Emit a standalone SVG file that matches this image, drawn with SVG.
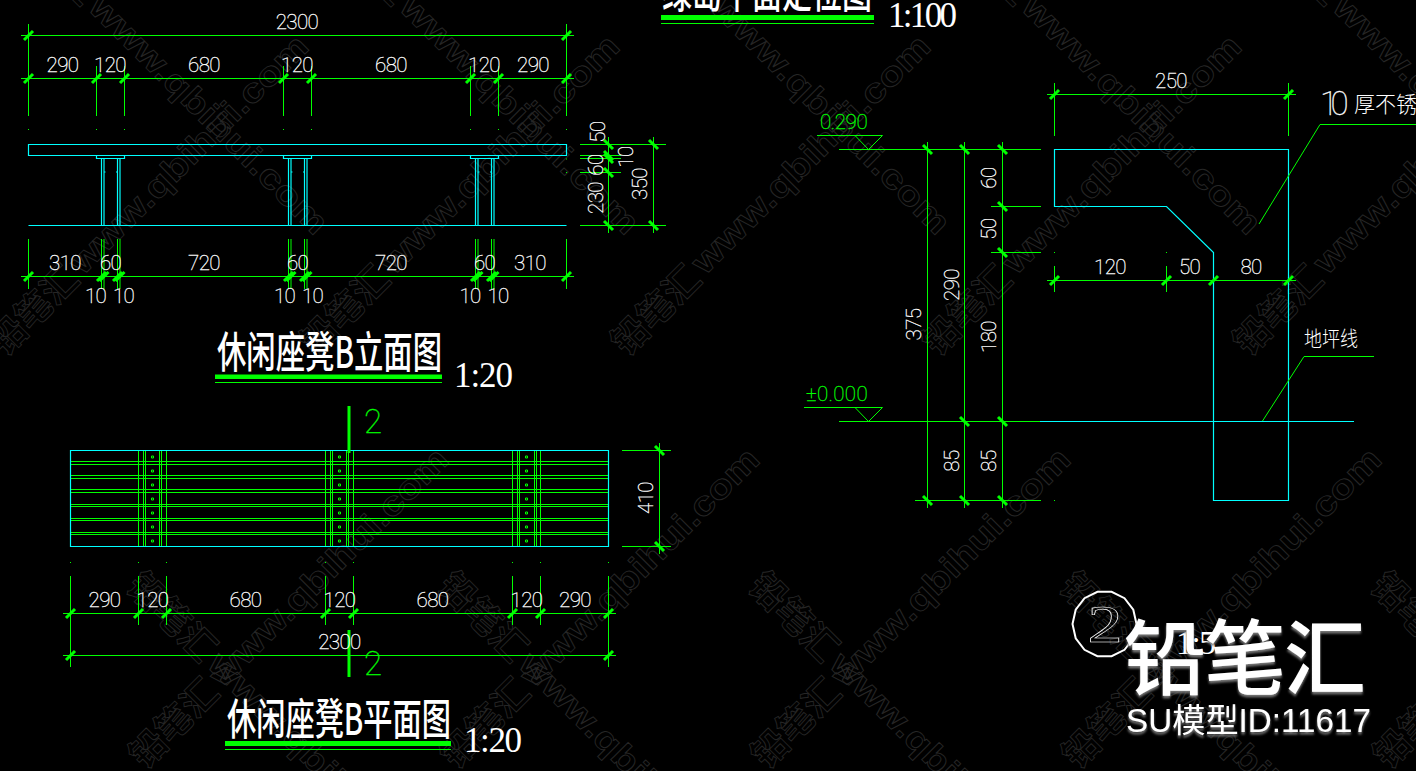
<svg xmlns="http://www.w3.org/2000/svg" width="1416" height="771" viewBox="0 0 1416 771">
<style>
.g{fill:none;stroke:#00ff00;stroke-width:1}
.c{fill:none;stroke:#00ffff;stroke-width:1.2}
.t{fill:none;stroke:#00ff00;stroke-width:3}
.th{fill:#00ff00}
.n{font-family:Roboto,"Liberation Sans",sans-serif;font-weight:100;font-size:20.5px;letter-spacing:-.6px;fill:#fff;stroke:#fff;stroke-width:.3;text-anchor:middle}
.lv{fill:#00ff00;stroke:#00ff00;text-anchor:start}
.sec{font-family:Roboto,sans-serif;font-weight:100;font-size:33px;fill:#00ff00;stroke:#00ff00;stroke-width:.3;text-anchor:middle}
.ti{font-family:"Noto Sans CJK SC",sans-serif;font-weight:500;font-size:43px;fill:#fff}
.sc{font-family:"Liberation Serif",serif;font-size:35px;fill:#fff}
.cj{font-family:"Noto Sans CJK SC",sans-serif;font-weight:300;fill:#fff}
.w1{font-family:"Liberation Sans",sans-serif;font-weight:700;font-size:34px;fill:none;stroke:#262626;stroke-width:.9}
.w2{font-family:"Noto Sans CJK SC",sans-serif;font-weight:700;font-size:36px;fill:none;stroke:#262626;stroke-width:.9}
.big{fill:#fff;font-family:"Noto Sans CJK SC",sans-serif}
</style>
<defs>
<path id="s" class="t" d="M-4.5 4.5L4.5-4.5"/>
<path id="b" class="t" d="M-4.5-4.5L4.5 4.5"/>
<g id="wm"><text class="w2" x="-113" y="2">铅笔汇</text><text class="w1" x="0" y="0" textLength="322" lengthAdjust="spacingAndGlyphs">www.qbihui.com</text></g>
<filter id="sh" x="-5%" y="-5%" width="110%" height="115%"><feDropShadow dx="0" dy="2.5" stdDeviation="1" flood-color="#777"/></filter>
</defs>
<rect width="1416" height="771" fill="#000"/>

<g id="watermarks">
<use href="#wm" transform="translate(83,276) rotate(-45)"/>
<use href="#wm" transform="translate(394,276) rotate(-45)"/>
<use href="#wm" transform="translate(705,276) rotate(-45)"/>
<use href="#wm" transform="translate(1016,276) rotate(-45)"/>
<use href="#wm" transform="translate(1327,276) rotate(-45)"/>
<use href="#wm" transform="translate(223,689) rotate(-45)"/>
<use href="#wm" transform="translate(534,689) rotate(-45)"/>
<use href="#wm" transform="translate(845,689) rotate(-45)"/>
<use href="#wm" transform="translate(1156,689) rotate(-45)"/>
<use href="#wm" transform="translate(1467,689) rotate(-45)"/>
<use href="#wm" transform="translate(87,9) rotate(45)"/>
<use href="#wm" transform="translate(398,9) rotate(45)"/>
<use href="#wm" transform="translate(709,9) rotate(45)"/>
<use href="#wm" transform="translate(1020,9) rotate(45)"/>
<use href="#wm" transform="translate(1331,9) rotate(45)"/>
<use href="#wm" transform="translate(206,666) rotate(45)"/>
<use href="#wm" transform="translate(517,666) rotate(45)"/>
<use href="#wm" transform="translate(828,666) rotate(45)"/>
<use href="#wm" transform="translate(1139,666) rotate(45)"/>
<use href="#wm" transform="translate(1450,666) rotate(45)"/>
</g>

<g id="elevation">
<path class="c" d="M28.5 144.5H566.5V155.5H28.5ZM28.5 225.5H566.5"/>
<path class="c" d="M96.5 155.5V158.5H124.5V155.5M101.5 158.5V225.5M104 158.5V225.5M117.5 158.5V225.5M120 158.5V225.5M104 172H105.5M117.5 172H116"/>
<path class="c" d="M283.5 155.5V158.5H311.5V155.5M288.5 158.5V225.5M291 158.5V225.5M304.5 158.5V225.5M307 158.5V225.5M291 172H292.5M304.5 172H303"/>
<path class="c" d="M470.5 155.5V158.5H498.5V155.5M475.5 158.5V225.5M478 158.5V225.5M491.5 158.5V225.5M494 158.5V225.5M478 172H479.5M491.5 172H490"/>
</g>

<g id="elevation-dims">
<path class="g" d="M21 35.5H574M21 78.5H574M28.5 24V116M566.5 24V116M96.5 66V116M124.5 66V116M283.5 66V116M311.5 66V116M470.5 66V116M498.5 66V116"/>
<path class="g" d="M28.5 129v1M96.5 129v1M124.5 129v1M283.5 129v1M311.5 129v1M470.5 129v1M498.5 129v1M566.5 129v1M566.5 158.5v1M566.5 172v1"/>
<path class="g" d="M21 276.5H574M28.5 239V289M566.5 239V289M101.5 239V289M104 239V289M117.5 239V289M120 239V289M288.5 239V289M291 239V289M304.5 239V289M307 239V289M475.5 239V289M478 239V289M491.5 239V289M494 239V289"/>
<path class="g" d="M580 144.5H666M580 225.5H666M580 155.5H621M580 158.5H621M580 172.5H621M608.5 137V233M653.5 137V233"/>
<use href="#s" x="28.5" y="35.5"/><use href="#s" x="566.5" y="35.5"/>
<use href="#s" x="28.5" y="78.5"/><use href="#s" x="96.5" y="78.5"/><use href="#s" x="124.5" y="78.5"/><use href="#s" x="283.5" y="78.5"/><use href="#s" x="311.5" y="78.5"/><use href="#s" x="470.5" y="78.5"/><use href="#s" x="498.5" y="78.5"/><use href="#s" x="566.5" y="78.5"/>
<use href="#s" x="28.5" y="276.5"/><use href="#s" x="101.5" y="276.5"/><use href="#s" x="104" y="276.5"/><use href="#s" x="117.5" y="276.5"/><use href="#s" x="120" y="276.5"/><use href="#s" x="288.5" y="276.5"/><use href="#s" x="291" y="276.5"/><use href="#s" x="304.5" y="276.5"/><use href="#s" x="307" y="276.5"/><use href="#s" x="475.5" y="276.5"/><use href="#s" x="478" y="276.5"/><use href="#s" x="491.5" y="276.5"/><use href="#s" x="494" y="276.5"/><use href="#s" x="566.5" y="276.5"/>
<use href="#b" x="608.5" y="144.5"/><use href="#b" x="608.5" y="155.5"/><use href="#b" x="608.5" y="158.5"/><use href="#b" x="608.5" y="172.5"/><use href="#b" x="608.5" y="225.5"/><use href="#b" x="653.5" y="144.5"/><use href="#b" x="653.5" y="225.5"/>
<text class="n" x="297" y="29">2300</text>
<text class="n" x="62.5" y="71.5">290</text><text class="n" x="110" y="71.5">120</text><text class="n" x="204" y="71.5">680</text><text class="n" x="297" y="71.5">120</text><text class="n" x="391" y="71.5">680</text><text class="n" x="484" y="71.5">120</text><text class="n" x="533" y="71.5">290</text>
<text class="n" x="65" y="269.5">310</text><text class="n" x="110.5" y="269.5">60</text><text class="n" x="204" y="269.5">720</text><text class="n" x="297.5" y="269.5">60</text><text class="n" x="391" y="269.5">720</text><text class="n" x="484.5" y="269.5">60</text><text class="n" x="530" y="269.5">310</text>
<text class="n" x="95.5" y="302.5">10</text><text class="n" x="123.5" y="302.5">10</text><text class="n" x="284.5" y="302.5">10</text><text class="n" x="312.5" y="302.5">10</text><text class="n" x="470" y="302.5">10</text><text class="n" x="498" y="302.5">10</text>
<text class="n" transform="translate(605,132) rotate(-90)">50</text>
<text class="n" transform="translate(603,165) rotate(-90)">60</text>
<text class="n" transform="translate(633,157) rotate(-90)">10</text>
<text class="n" transform="translate(603,198) rotate(-90)">230</text>
<text class="n" transform="translate(647,184) rotate(-90)">350</text>
</g>

<g id="title-elevation">
<text class="ti" x="217" y="368" textLength="225" lengthAdjust="spacingAndGlyphs">休闲座凳B立面图</text>
<rect class="th" x="215" y="374.5" width="227" height="4.5"/>
<path class="g" d="M215 382.5H442"/>
<text class="sc" x="454" y="386.5" textLength="59" lengthAdjust="spacing">1:20</text>
</g>

<g id="plan">
<path class="g" d="M70 461.5H608M70 464.5H608M70 475.5H608M70 478.5H608M70 489.5H608M70 492.5H608M70 504.5H608M70 506.5H608M70 518.5H608M70 520.5H608M70 532.5H608M70 534.5H608"/>
<path class="g" d="M138.5 450V547M143.5 450V547M145.5 450V547M159.5 450V547M161.5 450V547M166.5 450V547M325.5 450V547M330.5 450V547M332.5 450V547M346.5 450V547M348.5 450V547M353.5 450V547M512.5 450V547M517.5 450V547M519.5 450V547M534.5 450V547M536.5 450V547M540.5 450V547"/>
<path class="c" d="M70.5 450.5H608.5V546.5H70.5Z"/>
<path class="g" d="M151.5 456h2v2h-2ZM151.5 470h2v2h-2ZM151.5 484h2v2h-2ZM151.5 498h2v2h-2ZM151.5 512h2v2h-2ZM151.5 526h2v2h-2ZM151.5 540h2v2h-2Z"/>
<path class="g" d="M338.5 456h2v2h-2ZM338.5 470h2v2h-2ZM338.5 484h2v2h-2ZM338.5 498h2v2h-2ZM338.5 512h2v2h-2ZM338.5 526h2v2h-2ZM338.5 540h2v2h-2Z"/>
<path class="g" d="M525.5 456h2v2h-2ZM525.5 470h2v2h-2ZM525.5 484h2v2h-2ZM525.5 498h2v2h-2ZM525.5 512h2v2h-2ZM525.5 526h2v2h-2ZM525.5 540h2v2h-2Z"/>
<rect class="th" x="347.5" y="406" width="3" height="47"/>
<rect class="th" x="347.5" y="630" width="3" height="47"/>
<text class="sec" x="373" y="433">2</text>
<text class="sec" x="373" y="675">2</text>
</g>

<g id="plan-dims">
<path class="g" d="M63 613.5H616M63 655.5H616M70.5 576V667M608.5 576V667M138.5 576V625M166.5 576V625M325.5 576V625M353.5 576V625M512.5 576V625M540.5 576V625"/>
<path class="g" d="M70.5 562v1M138.5 562v1M166.5 562v1M325.5 562v1M353.5 562v1M512.5 562v1M540.5 562v1M608.5 562v1"/>
<path class="g" d="M622 450.5H671M622 546.5H671M659.5 443V554"/>
<use href="#s" x="70.5" y="613.5"/><use href="#s" x="138.5" y="613.5"/><use href="#s" x="166.5" y="613.5"/><use href="#s" x="325.5" y="613.5"/><use href="#s" x="353.5" y="613.5"/><use href="#s" x="512.5" y="613.5"/><use href="#s" x="540.5" y="613.5"/><use href="#s" x="608.5" y="613.5"/>
<use href="#s" x="70.5" y="655.5"/><use href="#s" x="608.5" y="655.5"/>
<use href="#b" x="659.5" y="450.5"/><use href="#b" x="659.5" y="546.5"/>
<text class="n" x="104.5" y="607">290</text><text class="n" x="152.5" y="607">120</text><text class="n" x="245.5" y="607">680</text><text class="n" x="339.5" y="607">120</text><text class="n" x="432.5" y="607">680</text><text class="n" x="526.5" y="607">120</text><text class="n" x="575" y="607">290</text>
<text class="n" x="339.5" y="649">2300</text>
<text class="n" transform="translate(653,498) rotate(-90)">410</text>
</g>

<g id="title-plan">
<text class="ti" x="227" y="735" textLength="224" lengthAdjust="spacingAndGlyphs">休闲座凳B平面图</text>
<rect class="th" x="225" y="741" width="226" height="5"/>
<path class="g" d="M225 749.5H451"/>
<text class="sc" x="464" y="752" textLength="58" lengthAdjust="spacing">1:20</text>
</g>

<g id="title-top">
<text class="ti" x="662" y="8" textLength="210" lengthAdjust="spacingAndGlyphs">绿岛平面定位图</text>
<rect class="th" x="661" y="15" width="213" height="5"/>
<path class="g" d="M661 23.5H874"/>
<text class="sc" x="888" y="27" textLength="69" lengthAdjust="spacing">1:100</text>
</g>

<g id="section">
<path class="c" d="M1054.5 149.5H1288.5V500.5H1213.5V252.5L1166.5 206.5H1054.5Z"/>
<path class="c" d="M1040 421.5H1354"/>
<path class="g" d="M1259 224L1320 124.5H1416M1262.5 421L1304 356.5H1374"/>
</g>

<g id="section-dims">
<path class="g" d="M839 149.5H1041M839 421.5H1040M991 206.5H1041M991 252.5H1041M915 500.5H1041"/>
<path class="g" d="M927.5 142V508M964.5 142V508M1002.5 142V508"/>
<path class="g" d="M1047 94.5H1296M1054.5 83V136M1288.5 83V136M1047 280.5H1296M1054.5 266V292M1166.5 266V292M1054.5 252v1M1166.5 252v1M1054.5 500v1"/>
<use href="#b" x="927.5" y="149.5"/><use href="#b" x="964.5" y="149.5"/><use href="#b" x="1002.5" y="149.5"/><use href="#b" x="1002.5" y="206.5"/><use href="#b" x="1002.5" y="252.5"/><use href="#b" x="964.5" y="421.5"/><use href="#b" x="1002.5" y="421.5"/><use href="#b" x="927.5" y="500.5"/><use href="#b" x="964.5" y="500.5"/><use href="#b" x="1002.5" y="500.5"/>
<use href="#s" x="1054.5" y="94.5"/><use href="#s" x="1288.5" y="94.5"/><use href="#s" x="1054.5" y="280.5"/><use href="#s" x="1166.5" y="280.5"/><use href="#s" x="1213.5" y="280.5"/><use href="#s" x="1288.5" y="280.5"/>
<path class="g" d="M817 135.5H882.5L868.5 149.5L855 135.5M804 407.5H882.5L868.5 421.5L855 407.5"/>
<text class="n lv" x="820" y="129" textLength="47">0.290</text>
<text class="n lv" x="806" y="401" textLength="61">±0.000</text>
<text class="n" x="1171" y="88">250</text>
<text class="n" x="1110" y="273.5">120</text><text class="n" x="1189.5" y="273.5">50</text><text class="n" x="1251" y="273.5">80</text>
<text class="n" transform="translate(996,178) rotate(-90)">60</text>
<text class="n" transform="translate(996,229) rotate(-90)">50</text>
<text class="n" transform="translate(996,337) rotate(-90)">180</text>
<text class="n" transform="translate(996,461) rotate(-90)">85</text>
<text class="n" transform="translate(958.5,285) rotate(-90)">290</text>
<text class="n" transform="translate(958.5,461) rotate(-90)">85</text>
<text class="n" transform="translate(921,324.5) rotate(-90)">375</text>
<text class="n" x="1334" y="115" style="font-size:33px" textLength="28">10</text>
<text class="cj" x="1354" y="112" style="font-size:22px" textLength="84" lengthAdjust="spacingAndGlyphs">厚不锈钢</text>
<text class="cj" x="1304" y="346" style="font-size:21px" textLength="54" lengthAdjust="spacingAndGlyphs">地坪线</text>
</g>

<g id="section-mark">
<polygon transform="translate(1104.5,624)" fill="none" stroke="#fff" stroke-width="2" points="32,0 28.8,14.3 20,25.8 7.1,32.2 -7.1,32.2 -20,25.8 -28.8,14.3 -32,0 -28.8,-14.3 -20,-25.8 -7.1,-32.2 7.1,-32.2 20,-25.8 28.8,-14.3"/>
<text transform="translate(1105,642) scale(1.35,1)" text-anchor="middle" style="font-family:'Liberation Serif',serif;font-size:52px;fill:none;stroke:#fff;stroke-width:.6">2</text>
<text class="sc" x="1176" y="654" style="font-size:34px" textLength="40" lengthAdjust="spacing">1:5</text>
</g>

<g id="brand" filter="url(#sh)">
<text class="big" x="1124" y="688" style="font-size:82px;font-weight:500" textLength="242" lengthAdjust="spacing">铅笔汇</text>
<text x="1126" y="732" style="font-family:'Liberation Sans','Noto Sans CJK SC',sans-serif;font-size:33px;fill:#fff" textLength="245" lengthAdjust="spacingAndGlyphs">SU模型ID:11617</text>
</g>
</svg>
